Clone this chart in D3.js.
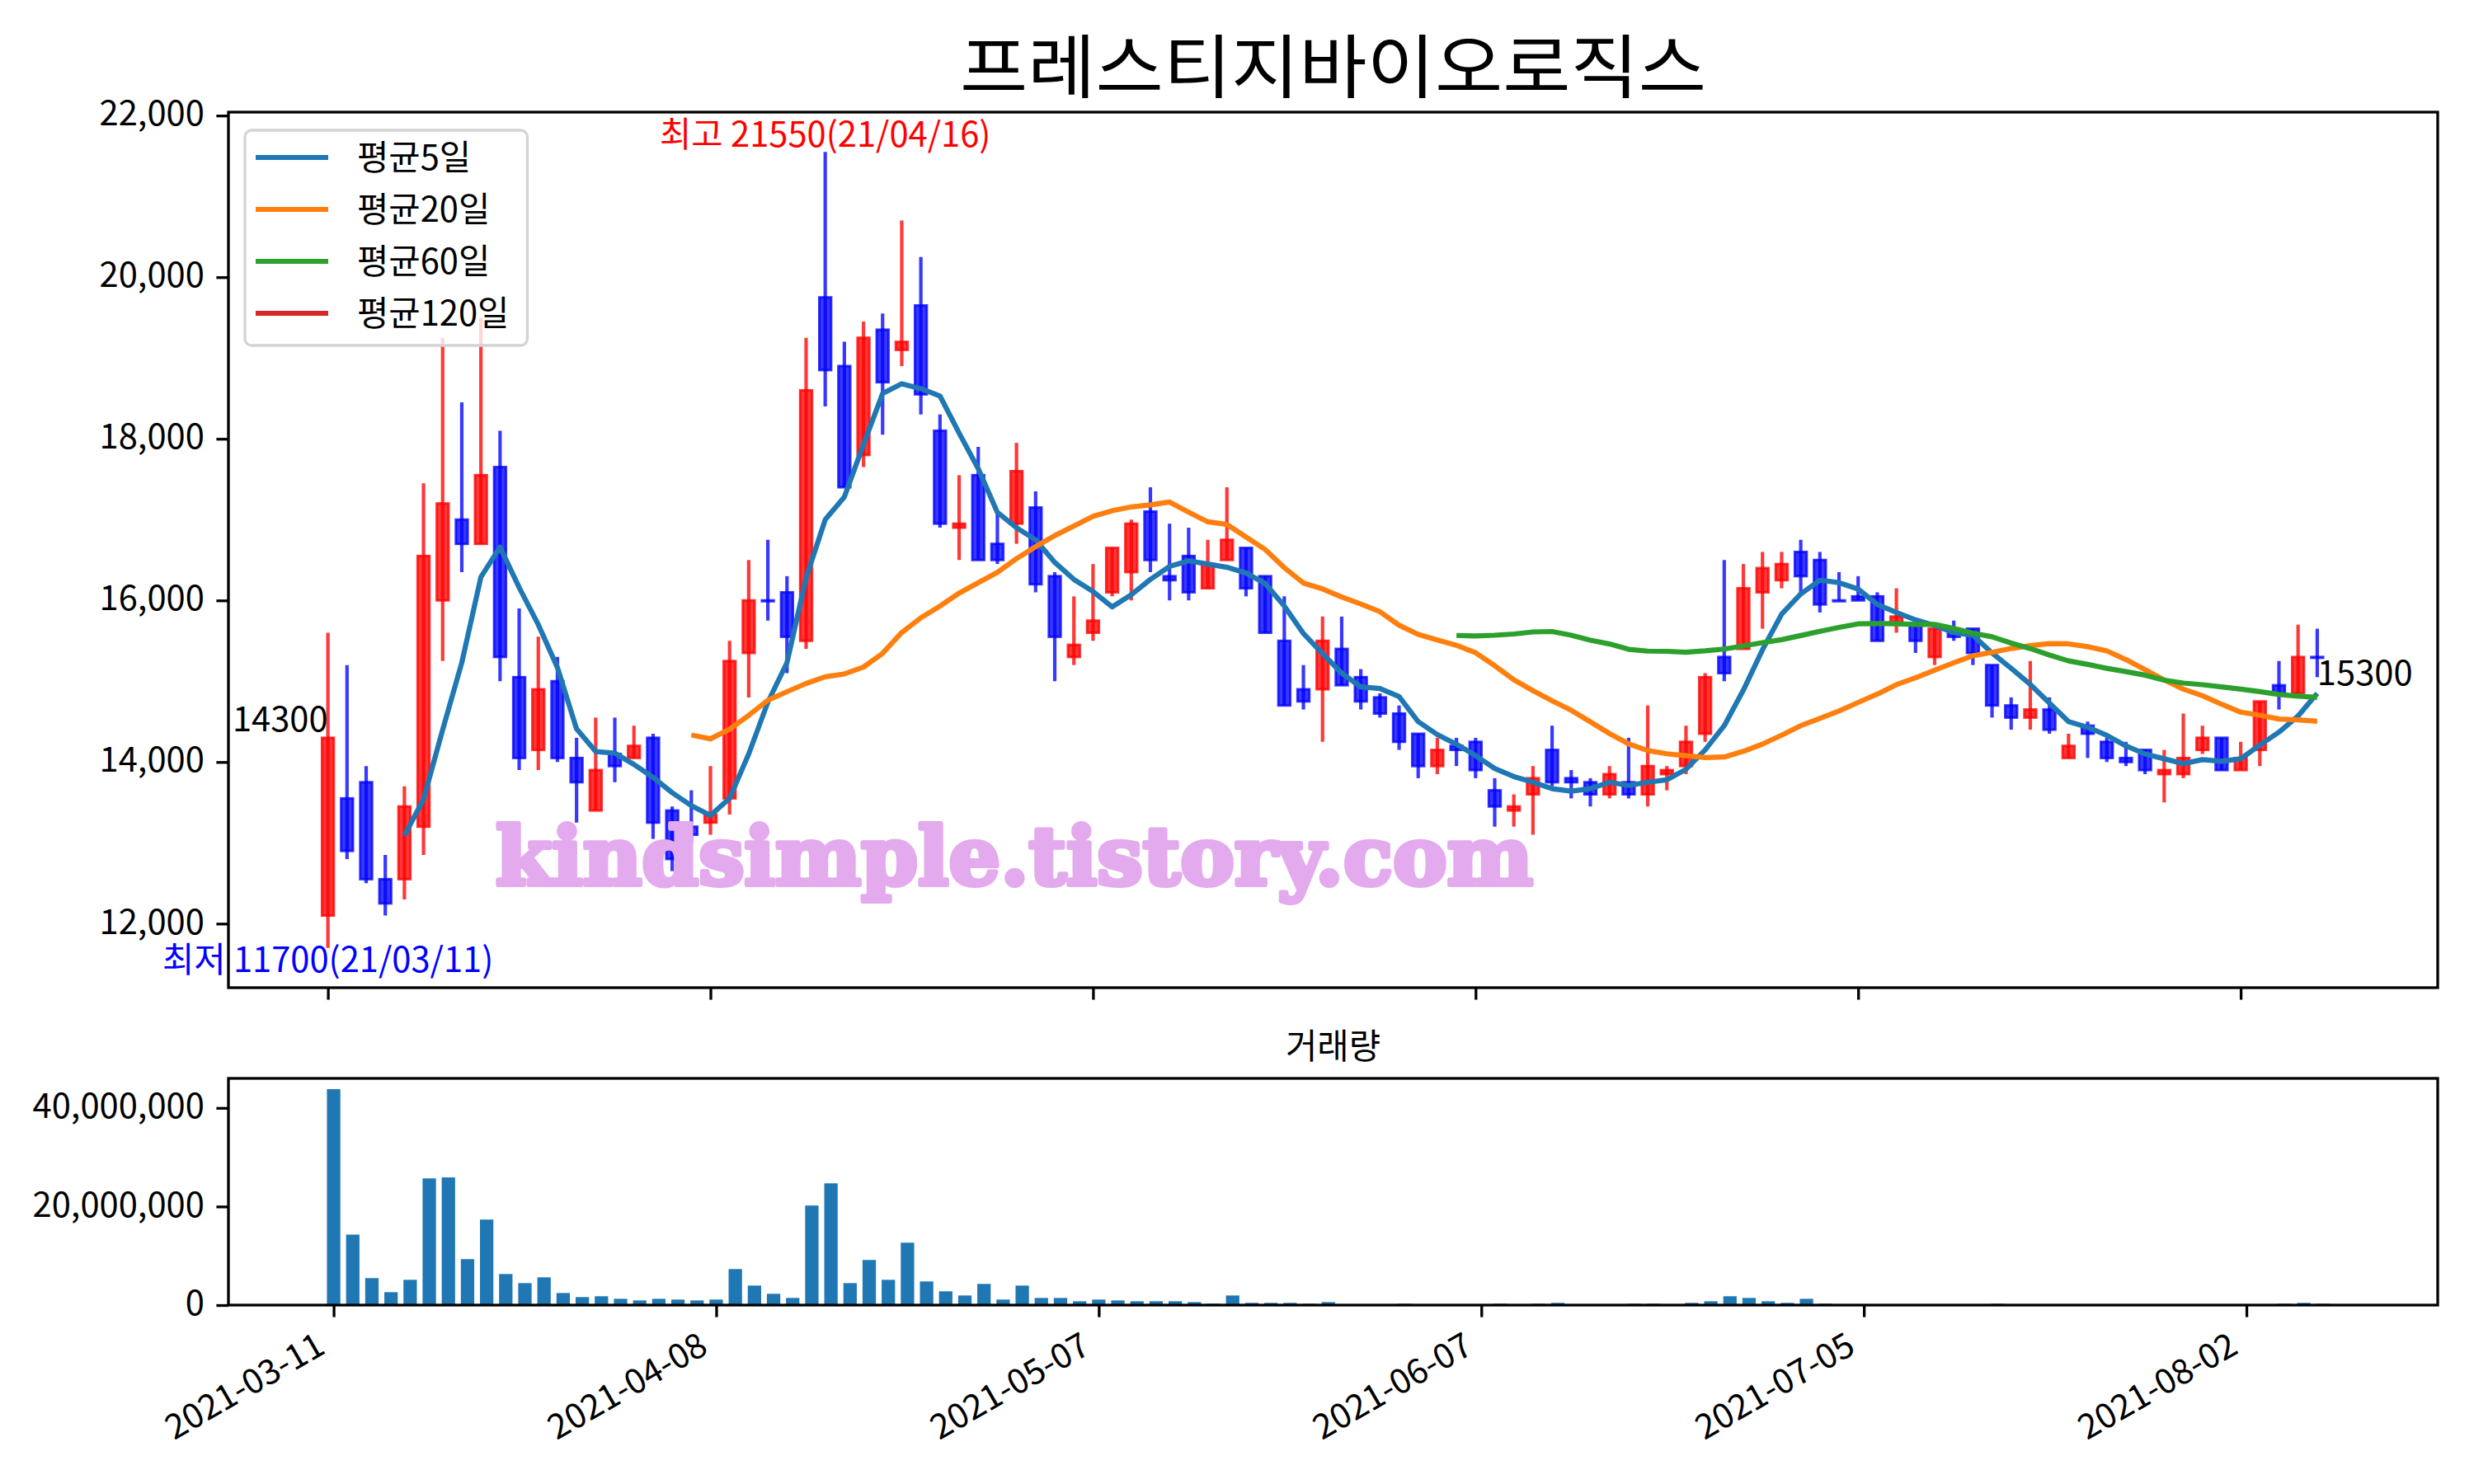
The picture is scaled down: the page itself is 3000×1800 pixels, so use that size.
<!DOCTYPE html>
<html><head><meta charset="utf-8">
<script src="https://cdn.jsdelivr.net/npm/d3@7"></script>
<style>body{margin:0;background:#fff}</style>
</head><body>
<svg id="c" width="3000" height="1800" xmlns="http://www.w3.org/2000/svg"></svg>
<script>
// ---------------- DATA ----------------
const titleText = "프레스티지바이오로직스";
const dates = [
"2021-03-11","2021-03-12","2021-03-15","2021-03-16","2021-03-17","2021-03-18","2021-03-19","2021-03-22","2021-03-23","2021-03-24",
"2021-03-25","2021-03-26","2021-03-29","2021-03-30","2021-03-31","2021-04-01","2021-04-02","2021-04-05","2021-04-06","2021-04-07",
"2021-04-08","2021-04-09","2021-04-12","2021-04-13","2021-04-14","2021-04-15","2021-04-16","2021-04-19","2021-04-20","2021-04-21",
"2021-04-22","2021-04-23","2021-04-26","2021-04-27","2021-04-28","2021-04-29","2021-04-30","2021-05-03","2021-05-04","2021-05-06",
"2021-05-07","2021-05-10","2021-05-11","2021-05-12","2021-05-13","2021-05-14","2021-05-17","2021-05-18","2021-05-20","2021-05-21",
"2021-05-24","2021-05-25","2021-05-26","2021-05-27","2021-05-28","2021-05-31","2021-06-01","2021-06-02","2021-06-03","2021-06-04",
"2021-06-07","2021-06-08","2021-06-09","2021-06-10","2021-06-11","2021-06-14","2021-06-15","2021-06-16","2021-06-17","2021-06-18",
"2021-06-21","2021-06-22","2021-06-23","2021-06-24","2021-06-25","2021-06-28","2021-06-29","2021-06-30","2021-07-01","2021-07-02",
"2021-07-05","2021-07-06","2021-07-07","2021-07-08","2021-07-09","2021-07-12","2021-07-13","2021-07-14","2021-07-15","2021-07-16",
"2021-07-19","2021-07-20","2021-07-21","2021-07-22","2021-07-23","2021-07-26","2021-07-27","2021-07-28","2021-07-29","2021-07-30",
"2021-08-02","2021-08-03","2021-08-04","2021-08-05","2021-08-06"];
const opens = [
12100,13550,13750,12550,12550,13200,16000,17000,16700,17650,
15050,14150,15000,14050,13400,14100,14050,14300,13400,13200,
13250,13550,15350,16000,16100,15500,19750,18900,17800,19350,
19100,19650,18100,16900,17550,16700,16950,17150,16300,15300,
15600,16100,16350,17100,16300,16550,16150,16500,16650,16300,
15500,14900,14900,15400,15050,14800,14600,14350,13950,14200,
14250,13650,13400,13600,14150,13800,13750,13600,13750,13600,
13850,13950,14350,15300,15400,16100,16250,16600,16500,16000,
16050,16050,15700,15700,15300,15600,15650,15200,14700,14550,
14650,14050,14450,14250,14050,14150,13850,13850,14150,14300,
13900,14150,14950,14850,15300];
const highs = [
15600,15200,13950,12850,13700,17450,19250,18450,19500,18100,
15900,15550,15300,14300,14550,14550,14450,14350,13450,13650,
13950,15500,16500,16750,16300,19250,21550,19200,19450,19550,
20700,20250,18300,17550,17900,17100,17950,17350,16350,16050,
16450,16650,17000,17400,16950,16900,16750,17400,16650,16300,
16050,15200,15800,15800,15150,14850,14700,14350,14300,14300,
14300,13800,13600,13950,14450,13900,13800,13950,14300,14700,
13950,14450,15100,16500,16450,16600,16600,16750,16600,16350,
16300,16100,16150,15750,15650,15750,15650,15200,14800,15250,
14800,14350,14500,14300,14250,14150,14150,14600,14450,14300,
14250,14750,15250,15700,15650];
const lows = [
11700,12800,12500,12100,12300,12850,15250,16350,16700,15000,
13900,13900,14000,13250,13400,13750,14050,13050,12650,13000,
13100,13350,14800,15750,15100,15400,18400,17400,17650,18050,
18900,18300,16900,16500,16500,16450,16700,16100,15000,15200,
15500,16050,16000,16350,16000,16000,16150,16500,16050,15600,
14700,14650,14250,14950,14650,14550,14150,13800,13850,13950,
13800,13200,13200,13100,13700,13550,13450,13550,13550,13450,
13650,13850,14250,15000,15400,15650,16150,16100,15850,16000,
16000,15500,15600,15350,15200,15500,15200,14550,14400,14400,
14350,14050,14050,14000,13950,13850,13500,13800,14100,13900,
13900,13950,14650,14850,15050];
const closes = [
14300,12900,12550,12250,13450,16550,17200,16700,17550,15300,
14050,14900,14050,13750,13900,13950,14200,13250,12800,13100,
13350,15250,16000,16000,15550,18600,18850,17400,19250,18700,
19200,18550,16950,16950,16500,16500,17600,16200,15550,15450,
15750,16650,16950,16500,16250,16100,16450,16750,16150,15600,
14700,14750,15500,14950,14750,14600,14250,13950,14150,14150,
13900,13450,13450,13800,13750,13750,13600,13850,13600,13950,
13900,14250,15050,15100,16150,16400,16450,16300,15950,16000,
16000,15500,15800,15500,15650,15550,15350,14700,14550,14650,
14400,14200,14350,14050,14000,13900,13900,14050,14300,13900,
14050,14750,14850,15300,15300];
const volumes = [
43800000,14300000,5470000,2620000,5130000,25700000,25900000,9320000,17350000,6300000,
4460000,5630000,2450000,1620000,1790000,1280000,950000,1280000,1120000,950000,
1120000,7310000,3960000,2290000,1450000,20200000,24700000,4460000,9150000,5130000,
12660000,4800000,2790000,1950000,4300000,1120000,3960000,1450000,1450000,780000,
1120000,950000,780000,780000,780000,610000,280000,1950000,450000,450000,
450000,280000,610000,110000,110000,80000,280000,110000,80000,80000,
110000,280000,80000,280000,450000,80000,80000,80000,280000,280000,
80000,450000,780000,1790000,1450000,780000,450000,1280000,280000,110000,
110000,110000,110000,110000,110000,80000,80000,280000,80000,80000,
80000,80000,80000,80000,80000,80000,80000,80000,80000,80000,
80000,110000,280000,450000,280000];
const tickDates = ["2021-03-11","2021-04-08","2021-05-07","2021-06-07","2021-07-05","2021-08-02"];
const priceTicks = [12000,14000,16000,18000,20000,22000];
const volumeTicks = [0,20000000,40000000];
const maPeriods = [5,20,60,120];
const maLabels = ["평균5일","평균20일","평균60일","평균120일"];
const maColors = ["#1f77b4","#ff7f0e","#2ca02c","#d62728"];
const highLabel = "최고 21550(21/04/16)";
const lowLabel = "최저 11700(21/03/11)";
const watermark = "kindsimple.tistory.com";
const volumeTitle = "거래량";

// ---------------- LAYOUT ----------------
const FONT = "'Noto Sans CJK KR','Noto Sans',sans-serif";
const FS = 41.7;
const svg = d3.select("#c");
svg.append("rect").attr("width",3000).attr("height",1800).attr("fill","#fff");

const M = {L:277, R:2956, T:136, B:1198};
const V = {L:277, R:2956, T:1308, B:1583};
const n = dates.length;

const x = d3.scaleLinear().domain([-5.2, 110.3]).range([M.L, M.R]);
const y = d3.scaleLinear().domain([11207.5, 22042.5]).range([M.B, M.T]);
const xv = d3.scaleLinear().domain([-5.5, 110.0]).range([V.L, V.R]);
const yv = d3.scaleLinear().domain([0, d3.max(volumes)*1.05]).range([V.B, V.T]);

const step = x(1)-x(0);
const RED = "rgba(255,0,0,0.78)", BLUE = "rgba(0,0,255,0.78)";

// clip for main plot
svg.append("clipPath").attr("id","mclip").append("rect")
  .attr("x",M.L).attr("y",M.T).attr("width",M.R-M.L).attr("height",M.B-M.T);
const gm = svg.append("g").attr("clip-path","url(#mclip)");

// candles
const idx = d3.range(n);
gm.selectAll("line.wick").data(idx).join("line")
  .attr("x1",i=>x(i)).attr("x2",i=>x(i))
  .attr("y1",i=>y(highs[i])).attr("y2",i=>y(lows[i]))
  .attr("stroke",i=>closes[i]>opens[i]?RED:BLUE).attr("stroke-width",4.2);
const bw = step*0.62;
gm.selectAll("rect.body").data(idx).join("rect")
  .attr("x",i=>x(i)-bw/2).attr("width",bw)
  .attr("y",i=>y(Math.max(opens[i],closes[i])))
  .attr("height",i=>Math.max(1,Math.abs(y(opens[i])-y(closes[i]))))
  .attr("fill",i=>closes[i]>opens[i]?RED:BLUE)
  .attr("stroke",i=>closes[i]>opens[i]?RED:BLUE).attr("stroke-width",3);

// moving averages
maPeriods.forEach((p,k)=>{
  const pts=[];
  for(let i=p-1;i<n;i++){ pts.push([i, d3.mean(closes.slice(i-p+1,i+1))]); }
  if(pts.length<2) return;
  gm.append("path").attr("d", d3.line().x(d=>x(d[0])).y(d=>y(d[1]))(pts))
    .attr("fill","none").attr("stroke",maColors[k]).attr("stroke-width",6.2)
    .attr("stroke-linejoin","round").attr("stroke-linecap","butt");
});

// watermark
gm.append("text").attr("x",601).attr("y",1073)
  .attr("textLength",1258).attr("lengthAdjust","spacingAndGlyphs")
  .attr("font-family","'DejaVu Serif',serif").attr("font-weight","bold")
  .attr("font-size",98).attr("fill","#e3aaee")
  .attr("stroke","#e3aaee").attr("stroke-width",6).attr("stroke-linejoin","round")
  .text(watermark);

// annotations
svg.append("text").attr("x",x(26)).attr("y",y(21550)-6).attr("text-anchor","middle")
  .attr("font-family",FONT).attr("font-size",FS).attr("fill","#ff0000").text(highLabel);
svg.append("text").attr("x",x(0)).attr("y",y(11700)+29).attr("text-anchor","middle")
  .attr("font-family",FONT).attr("font-size",FS).attr("fill","#0000ff").text(lowLabel);
svg.append("text").attr("x",x(0)).attr("y",y(closes[0])-8).attr("text-anchor","end")
  .attr("font-family",FONT).attr("font-size",FS).attr("fill","#000").text(String(closes[0]));
svg.append("text").attr("x",x(n-1)).attr("y",y(closes[n-1])+34).attr("text-anchor","start")
  .attr("font-family",FONT).attr("font-size",FS).attr("fill","#000").text(String(closes[n-1]));

// legend
const lg = svg.append("g");
const lgBox = lg.append("rect").attr("x",297).attr("y",158).attr("rx",8).attr("ry",8)
  .attr("fill","rgba(255,255,255,0.8)").attr("stroke","#d4d4d4").attr("stroke-width",3.3);
let maxW=0;
maLabels.forEach((lab,k)=>{
  const yy = 191 + k*63;
  lg.append("line").attr("x1",310).attr("x2",398).attr("y1",yy).attr("y2",yy)
    .attr("stroke",maColors[k]).attr("stroke-width",6.2);
  const t = lg.append("text").attr("x",433).attr("y",yy).attr("dy","0.35em")
    .attr("font-family",FONT).attr("font-size",FS).attr("fill","#000").text(lab);
  maxW = Math.max(maxW, t.node().getComputedTextLength());
});
lgBox.attr("width", 433+maxW+22-297).attr("height", 419-158);

// main spines & axes
const fmt = d3.format(",");
svg.append("rect").attr("x",M.L).attr("y",M.T).attr("width",M.R-M.L).attr("height",M.B-M.T)
  .attr("fill","none").attr("stroke","#000").attr("stroke-width",3.3);
const yAxis = d3.axisLeft(y).tickValues(priceTicks).tickFormat(fmt).tickSize(14.6).tickPadding(14.6);
svg.append("g").attr("class","yax").attr("transform",`translate(${M.L},0)`).call(yAxis);
const tickIdx = tickDates.map(d=>dates.indexOf(d));
const xAxisM = d3.axisBottom(x).tickValues(tickIdx).tickFormat("").tickSize(14.6);
svg.append("g").attr("transform",`translate(0,${M.B})`).call(xAxisM);

// title
svg.append("text").attr("x",(M.L+M.R)/2).attr("y",112).attr("text-anchor","middle")
  .attr("textLength",905).attr("lengthAdjust","spacingAndGlyphs")
  .attr("font-family",FONT).attr("font-size",84).attr("fill","#000").text(titleText);

// volume
svg.append("clipPath").attr("id","vclip").append("rect")
  .attr("x",V.L).attr("y",V.T).attr("width",V.R-V.L).attr("height",V.B-V.T);
const gv = svg.append("g").attr("clip-path","url(#vclip)");
const vstep = xv(1)-xv(0);
gv.selectAll("rect").data(idx).join("rect")
  .attr("x",i=>xv(i)-vstep*0.35).attr("width",vstep*0.7)
  .attr("y",i=>yv(volumes[i])).attr("height",i=>yv(0)-yv(volumes[i]))
  .attr("fill","#1f77b4");
svg.append("rect").attr("x",V.L).attr("y",V.T).attr("width",V.R-V.L).attr("height",V.B-V.T)
  .attr("fill","none").attr("stroke","#000").attr("stroke-width",3.3);
svg.append("g").attr("class","yax").attr("transform",`translate(${V.L},0)`)
  .call(d3.axisLeft(yv).tickValues(volumeTicks).tickFormat(fmt).tickSize(14.6).tickPadding(14.6));
svg.append("g").attr("transform",`translate(0,${V.B})`)
  .call(d3.axisBottom(xv).tickValues(tickIdx).tickFormat("").tickSize(14.6));
svg.append("text").attr("x",(V.L+V.R)/2).attr("y",1284).attr("text-anchor","middle")
  .attr("font-family",FONT).attr("font-size",FS).attr("fill","#000").text(volumeTitle);

// rotated date labels
tickIdx.forEach((ti,k)=>{
  const tx = xv(ti), ty = V.B + 14.6 + 14.6;
  svg.append("text").attr("transform",`translate(${tx-8},${ty+28}) rotate(-30)`)
    .attr("text-anchor","end").attr("font-family",FONT).attr("font-size",FS)
    .attr("fill","#000").text(tickDates[k]);
});

// axis styling
svg.selectAll(".domain").remove();
svg.selectAll(".tick line").attr("stroke","#000").attr("stroke-width",3.3);
svg.selectAll(".tick text").attr("font-family",FONT).attr("font-size",FS).attr("fill","#000");
svg.selectAll(".yax .tick text").attr("dy","0.28em");
</script>
</body></html>
